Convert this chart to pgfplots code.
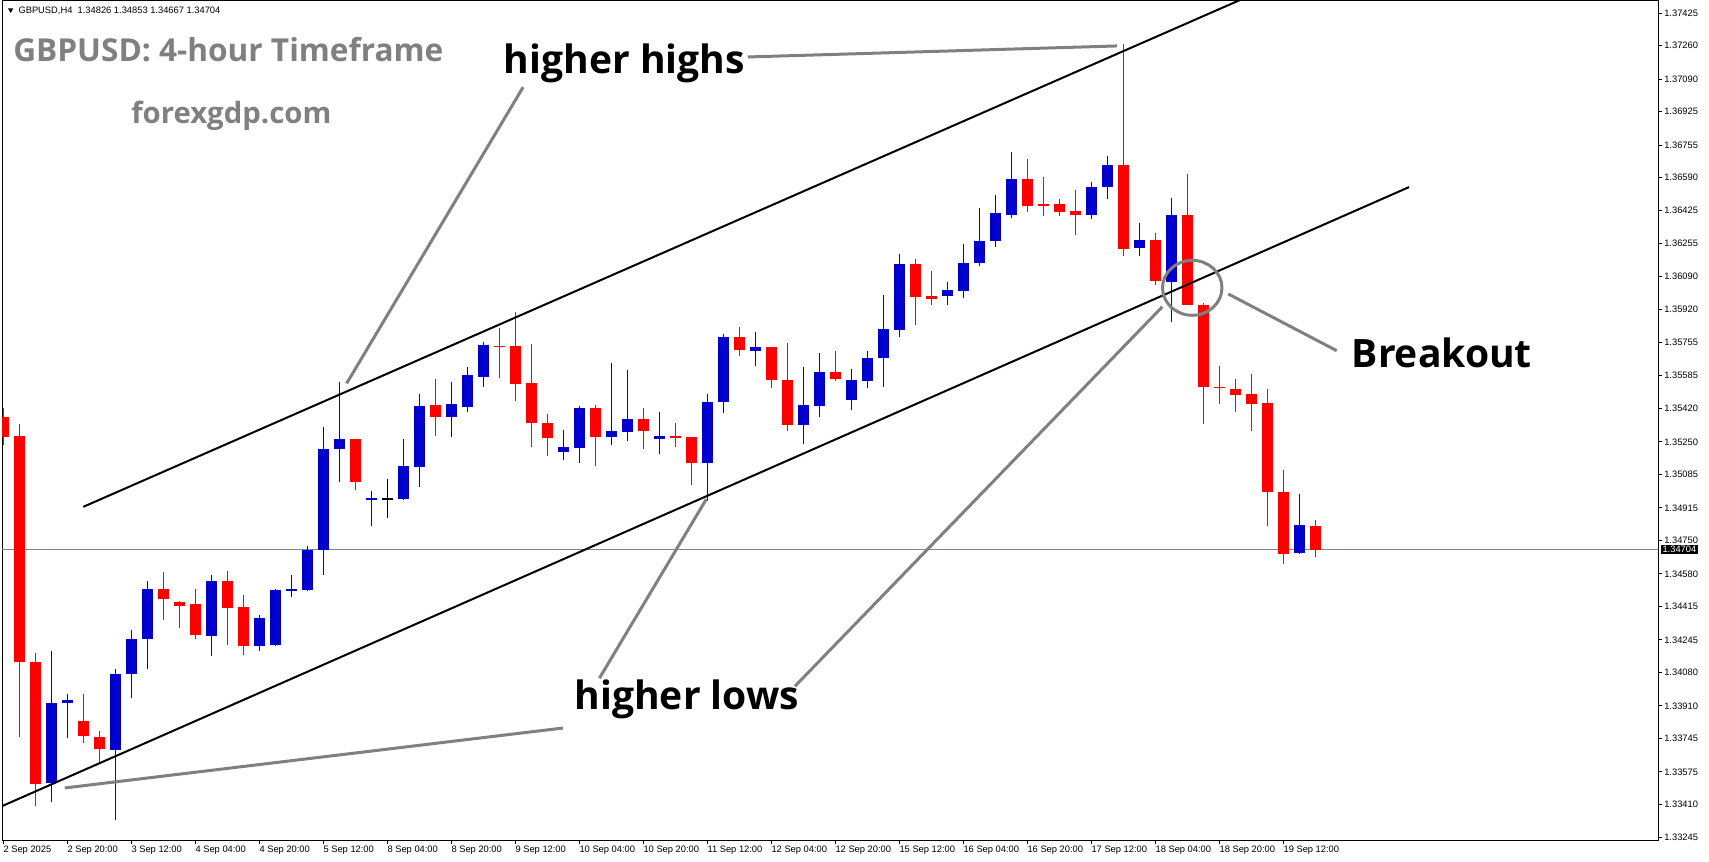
\documentclass[border=0pt]{standalone}
\usepackage{pgfplots}
\pgfplotsset{compat=1.18}
\usepackage{pgfplotstable}
\usepackage{fontspec}
\setmainfont{Liberation Sans}
\newfontfamily\opensans{Open Sans}
\definecolor{bull}{RGB}{0,0,205}
\definecolor{bear}{RGB}{255,0,0}
\definecolor{annot}{RGB}{128,128,128}
\definecolor{pline}{RGB}{119,136,153}

\pgfplotstableread{
i O H L C
3 1.33520 1.34188 1.33423 1.33929
4 1.33926 1.33970 1.33748 1.33939
7 1.33687 1.34097 1.33331 1.34076
8 1.34073 1.34295 1.33951 1.34249
9 1.34250 1.34543 1.34098 1.34503
13 1.34266 1.34574 1.34164 1.34543
16 1.34215 1.34372 1.34190 1.34355
17 1.34218 1.34503 1.34213 1.34498
18 1.34494 1.34574 1.34464 1.34503
19 1.34500 1.34721 1.34495 1.34704
20 1.34704 1.35325 1.34574 1.35213
21 1.35215 1.35553 1.35046 1.35264
23 1.34956 1.35000 1.34824 1.34965
25 1.34960 1.35264 1.34955 1.35127
26 1.35124 1.35492 1.35022 1.35431
28 1.35376 1.35553 1.35274 1.35442
29 1.35428 1.35629 1.35403 1.35589
30 1.35580 1.35756 1.35530 1.35741
35 1.35200 1.35310 1.35159 1.35223
36 1.35220 1.35431 1.35144 1.35421
38 1.35276 1.35650 1.35235 1.35305
39 1.35301 1.35614 1.35254 1.35366
41 1.35266 1.35401 1.35188 1.35279
44 1.35143 1.35492 1.34949 1.35451
45 1.35451 1.35796 1.35397 1.35781
47 1.35712 1.35807 1.35636 1.35730
50 1.35337 1.35629 1.35240 1.35436
51 1.35433 1.35700 1.35377 1.35604
53 1.35463 1.35619 1.35413 1.35563
54 1.35560 1.35710 1.35524 1.35675
55 1.35676 1.35994 1.35529 1.35822
56 1.35818 1.36202 1.35783 1.36152
59 1.35991 1.36060 1.35945 1.36020
60 1.36017 1.36253 1.35981 1.36157
61 1.36159 1.36436 1.36144 1.36269
62 1.36270 1.36502 1.36240 1.36411
63 1.36402 1.36720 1.36387 1.36583
68 1.36402 1.36568 1.36382 1.36543
69 1.36544 1.36700 1.36483 1.36654
71 1.36235 1.36362 1.36194 1.36274
73 1.36062 1.36487 1.35859 1.36401
81 1.34687 1.34985 1.34682 1.34827
}\bulltab

\pgfplotstableread{
i O H L C
0 1.35375 1.35421 1.35232 1.35275
1 1.35279 1.35340 1.33753 1.34134
2 1.34134 1.34178 1.33403 1.33517
5 1.33833 1.33970 1.33723 1.33758
6 1.33756 1.33782 1.33625 1.33692
10 1.34503 1.34589 1.34347 1.34453
11 1.34437 1.34442 1.34306 1.34418
12 1.34427 1.34503 1.34250 1.34269
14 1.34543 1.34594 1.34220 1.34408
15 1.34411 1.34472 1.34169 1.34215
22 1.35264 1.35264 1.35005 1.35048
27 1.35437 1.35568 1.35279 1.35377
31 1.35738 1.35827 1.35575 1.35732
32 1.35736 1.35908 1.35459 1.35545
33 1.35548 1.35746 1.35225 1.35347
34 1.35345 1.35391 1.35179 1.35271
37 1.35421 1.35438 1.35129 1.35276
40 1.35366 1.35421 1.35215 1.35306
42 1.35279 1.35345 1.35223 1.35273
43 1.35274 1.35274 1.35032 1.35144
46 1.35781 1.35832 1.35686 1.35717
48 1.35730 1.35730 1.35524 1.35565
49 1.35563 1.35751 1.35306 1.35337
52 1.35604 1.35710 1.35560 1.35570
57 1.36152 1.36177 1.35844 1.35986
58 1.35989 1.36116 1.35945 1.35976
64 1.36583 1.36685 1.36417 1.36448
65 1.36457 1.36593 1.36397 1.36452
66 1.36456 1.36482 1.36397 1.36417
67 1.36421 1.36527 1.36301 1.36402
70 1.36654 1.37268 1.36194 1.36230
72 1.36274 1.36309 1.36047 1.36067
74 1.36401 1.36609 1.35943 1.35946
75 1.35943 1.35957 1.35343 1.35529
76 1.35529 1.35634 1.35441 1.35524
77 1.35517 1.35568 1.35402 1.35489
78 1.35492 1.35598 1.35306 1.35443
79 1.35446 1.35517 1.34824 1.34996
80 1.34994 1.35106 1.34631 1.34682
82 1.34826 1.34853 1.34667 1.34704
}\beartab

\pgfplotstableread{
i O H L C
24 1.34963 1.35061 1.34865 1.34963
}\dojitab

\newcommand\candles[2]{%
  \addplot[forget plot, draw=none, mark=none,
    error bars/.cd, y dir=both, y explicit, error mark=none,
    error bar style={draw=#2, solid, line width=0.75pt}]
    table[x=i, y expr={(\thisrow{H}+\thisrow{L})/2},
          y error expr={(\thisrow{H}-\thisrow{L})/2}] {#1};
  \addplot[forget plot, draw=none, mark=none,
    error bars/.cd, y dir=both, y explicit, error mark=none,
    error bar style={draw=#2, solid, line width=8.25pt}]
    table[x=i, y expr={(\thisrow{O}+\thisrow{C})/2},
          y error expr={max(abs(\thisrow{O}-\thisrow{C})/2,0.000026)}] {#1};
}

\begin{document}
\begin{tikzpicture}
\useasboundingbox (0,0) rectangle (1281.75pt,645.75pt);
\begin{axis}[
  at={(1.5pt,15.75pt)}, anchor=south west,
  scale only axis, width=1242pt, height=629.25pt,
  xmin=-0.08, xmax=103.42, ymin=1.33230, ymax=1.37486,
  axis line style={black, line width=0.75pt},
  tick align=outside, major tick length=3pt,
  major tick style={black, line width=0.75pt},
  xtick pos=bottom, ytick pos=right, yticklabel pos=right,
  xtick={0,4,...,80},
  xticklabels={2 Sep 2025,2 Sep 20:00,3 Sep 12:00,4 Sep 04:00,4 Sep 20:00,5 Sep 12:00,8 Sep 04:00,8 Sep 20:00,9 Sep 12:00,10 Sep 04:00,10 Sep 20:00,11 Sep 12:00,12 Sep 04:00,12 Sep 20:00,15 Sep 12:00,16 Sep 04:00,16 Sep 20:00,17 Sep 12:00,18 Sep 04:00,18 Sep 20:00,19 Sep 12:00},
  ytick={1.33245,1.33410,1.33575,1.33745,1.33910,1.34080,1.34245,1.34415,1.34580,1.34750,1.34915,1.35085,1.35250,1.35420,1.35585,1.35755,1.35920,1.36090,1.36255,1.36425,1.36590,1.36755,1.36925,1.37090,1.37260,1.37425},
  yticklabels={1.33245,1.33410,1.33575,1.33745,1.33910,1.34080,1.34245,1.34415,1.34580,1.34750,1.34915,1.35085,1.35250,1.35420,1.35585,1.35755,1.35920,1.36090,1.36255,1.36425,1.36590,1.36755,1.36925,1.37090,1.37260,1.37425},
  ticklabel style={font=\fontsize{7}{8}\selectfont, inner sep=0pt},
  xticklabel style={anchor=north west, yshift=-1pt},
  yticklabel style={anchor=west, xshift=1.5pt},
  scaled y ticks=false,
]
% current price line
\addplot[forget plot, pline, line width=0.75pt] coordinates {(-1,1.34704) (104,1.34704)};
% candles
\candles{\bulltab}{bull}
\candles{\beartab}{bear}
\candles{\dojitab}{black}
% channel lines
\addplot[forget plot, black, line width=1.5pt] coordinates {(5.0,1.34920) (78,1.37516)};
\addplot[forget plot, black, line width=1.5pt] coordinates {(-1,1.33369) (87.86,1.36542)};
% annotation pointers
\addplot[forget plot, annot, line width=2.25pt] coordinates {(32.49,1.37049) (21.46,1.35546)};
\addplot[forget plot, annot, line width=2.25pt] coordinates {(46.53,1.37202) (69.61,1.37258)};
\addplot[forget plot, annot, line width=2.25pt] coordinates {(3.84,1.33494) (34.98,1.33798)};
\addplot[forget plot, annot, line width=2.25pt] coordinates {(37.26,1.34051) (43.94,1.34959)};
\addplot[forget plot, annot, line width=2.25pt] coordinates {(49.48,1.34010) (72.44,1.35935)};
\addplot[forget plot, annot, line width=2.25pt] coordinates {(76.56,1.36000) (83.34,1.35712)};
\draw[annot, line width=2.25pt] (axis cs:74.31,1.36031) ellipse [x radius=22.3pt, y radius=20.6pt];
\coordinate (pb) at (axis cs:103.42,1.34704);
\end{axis}
% price box
\node[fill=black, text=white, anchor=west, inner xsep=1pt, inner ysep=1.2pt,
      font=\fontsize{7}{8}\selectfont] at ([xshift=2.2pt]pb) {1.34704};
% header
\fill (6pt,639.5pt) -- (10pt,639.5pt) -- (8pt,636pt) -- cycle;
\node[anchor=west, inner sep=0pt, font=\fontsize{7}{8}\selectfont] at (13.7pt,637.5pt)
  {GBPUSD,H4\ \ 1.34826 1.34853 1.34667 1.34704};
% titles
\node[anchor=base west, inner sep=0pt, text=annot, font=\opensans\bfseries\fontsize{23.7}{28}\selectfont]
  at (9.75pt,599.25pt) {GBPUSD: 4-hour Timeframe};
\node[anchor=base west, inner sep=0pt, text=annot, font=\opensans\bfseries\fontsize{22}{26}\selectfont]
  at (98.25pt,552.75pt) {forexgdp.com};
\node[anchor=base west, inner sep=0pt, font=\opensans\bfseries\fontsize{29.3}{34}\selectfont]
  at (377.6pt,590.25pt) {higher highs};
\node[anchor=base west, inner sep=0pt, font=\opensans\bfseries\fontsize{29.3}{34}\selectfont]
  at (430.8pt,114pt) {higher lows};
\node[anchor=base west, inner sep=0pt, font=\opensans\bfseries\fontsize{29.3}{34}\selectfont]
  at (1013.6pt,369.75pt) {Breakout};
\end{tikzpicture}
\end{document}
